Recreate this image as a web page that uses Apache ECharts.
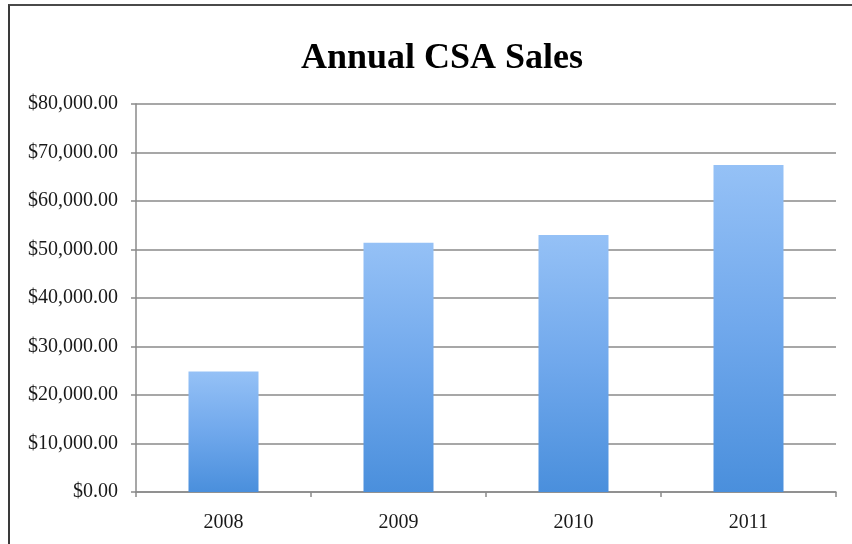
<!DOCTYPE html>
<html>
<head>
<meta charset="utf-8">
<script src="https://cdn.jsdelivr.net/npm/echarts@6/dist/echarts.min.js"></script>
<style>
  html, body { margin: 0; padding: 0; background: #ffffff; }
  #frame { position: absolute; left: 8px; top: 4px; width: 900px; height: 600px;
           border-left: 2px solid #3a3a3a; border-top: 2px solid #4a4a4a; }
  #chart { position: absolute; left: 0; top: 0; width: 852px; height: 544px; }
</style>
</head>
<body>
<div id="frame"></div>
<div id="chart"></div>
<script>
// Annual sales by year
const years = ['2008', '2009', '2010', '2011'];
const sales = [24850, 51400, 53000, 67400];
const yMin = 0;
const yMax = 80000;
const yStep = 10000;

const serif = '"Liberation Serif", "DejaVu Serif", serif';

function money(v) {
  return '$' + v.toLocaleString('en-US', { minimumFractionDigits: 2, maximumFractionDigits: 2 });
}

const chart = echarts.init(document.getElementById('chart'), null, { renderer: 'canvas' });
chart.setOption({
  backgroundColor: 'transparent',
  animation: false,
  title: {
    text: 'Annual CSA Sales',
    left: 437,
    top: 36,
    textAlign: 'center',
    textStyle: { fontFamily: serif, fontWeight: 'bold', fontSize: 36, color: '#000000' }
  },
  grid: { left: 136, right: 16, top: 104, bottom: 52, containLabel: false },
  xAxis: {
    type: 'category',
    data: years,
    boundaryGap: true,
    axisLine: { show: true, lineStyle: { color: '#8a8a8a', width: 1.5 } },
    axisTick: { show: true, length: 5, alignWithLabel: false, lineStyle: { color: '#8a8a8a', width: 1.5 } },
    axisLabel: { margin: 21, fontFamily: serif, fontSize: 20, color: '#1a1a1a' },
    splitLine: { show: false }
  },
  yAxis: {
    type: 'value',
    min: yMin,
    max: yMax,
    interval: yStep,
    axisLine: { show: true, lineStyle: { color: '#8a8a8a', width: 1.5 } },
    axisTick: { show: true, length: 5, lineStyle: { color: '#8a8a8a', width: 1.5 } },
    axisLabel: { margin: 18, fontFamily: serif, fontSize: 20, color: '#1a1a1a', formatter: money },
    splitLine: { show: true, lineStyle: { color: '#8a8a8a', width: 1.5 } }
  },
  series: [{
    type: 'bar',
    data: sales,
    barWidth: '40%',
    itemStyle: {
      color: new echarts.graphic.LinearGradient(0, 0, 0, 1, [
        { offset: 0, color: '#95c1f6' },
        { offset: 0.5, color: '#70a8ec' },
        { offset: 1, color: '#4a8fdc' }
      ])
    }
  }]
});
</script>
</body>
</html>
